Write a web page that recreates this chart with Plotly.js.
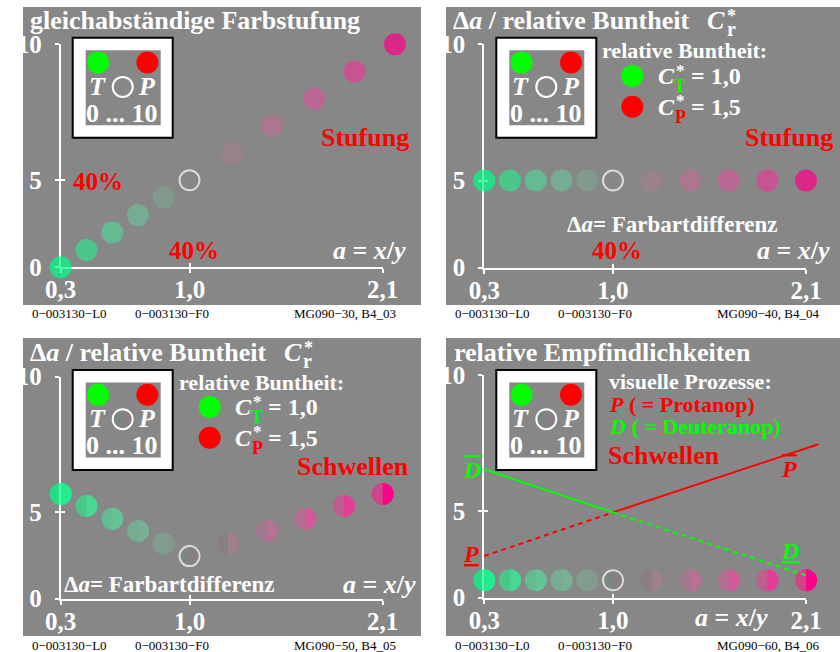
<!DOCTYPE html>
<html><head><meta charset="utf-8">
<script src="https://cdn.plot.ly/plotly-3.0.1.min.js"></script>
<style>body{margin:0;background:#fff}#c{width:840px;height:652px}</style>
</head><body><div id="c"></div>
<script>
// ---------- data ----------
const xTickVals = [0.3, 1.0, 2.1];
const xTickText = ['0,3', '1,0', '2,1'];
const yTickVals = [0, 5, 10];
const yTickText = ['0', '5', '10'];

const stufungA = [0.3, 0.44, 0.58, 0.72, 0.86, 1.0, 1.24, 1.47, 1.71, 1.94, 2.17];
const stufungV = [0, 1, 2, 3, 4, 5, 6, 7, 8, 9, 10];
const buntA = [0.3, 0.44, 0.58, 0.72, 0.86, 1.0, 1.22, 1.44, 1.66, 1.88, 2.1];
const buntV = [5, 5, 5, 5, 5, 5, 5, 5, 5, 5, 5];
const schwA = [0.3, 0.44, 0.58, 0.72, 0.86, 1.0, 1.22, 1.44, 1.66, 1.88, 2.1];
const schwV = [5.67, 5.23, 4.62, 3.91, 3.19, 2.46, 3.19, 3.91, 4.62, 5.23, 5.67];
const empfA = [0.3, 0.44, 0.58, 0.72, 0.86, 1.0, 1.22, 1.44, 1.66, 1.88, 2.1];
const empfV = [1, 1, 1, 1, 1, 1, 1, 1, 1, 1, 1];
const protA = [0.3, 1.0, 2.17];
const protV = [2.4, 4.91, 7.45];
const deutA = [0.3, 1.0, 2.15];
const deutV = [6.53, 4.91, 1.12];
const ringIndex = 5;

const fullColors  = ['#00ff88', '#33e38f', '#55d096', '#6fbc96', '#80a28e', 'rgba(0,0,0,0)', '#a1808e', '#b97095', '#d25a98', '#e43d95', '#ff0088'];
const leftColors  = ['#00ff88', '#33e38f', '#55d096', '#6fbc96', '#7ea690', '#788880', '#8c7a84', '#ac7290', '#c46296', '#da4a96', '#ec2a8e'];
const rightColors = ['#22ec8e', '#48d894', '#64c496', '#78b094', '#849a8c', '#8c7e88', '#a1808e', '#b97095', '#d25a98', '#e43d95', '#ff0088'];

// ---------- style / geometry ----------
const FONT = '"Liberation Serif", "Times New Roman", serif';
const W = 840, H = 652;
const GRAY = '#878787', RED = '#ff0000', GREEN = '#00ff00', WHITE = '#ffffff';
const XS = 0.4, YS = 0.39;   // 40% split of the axes
const tx = a => a <= 1 ? (a - 0.3) / 0.7 * XS : XS + (a - 1) / 1.1 * (1 - XS);
const ty = v => v <= 5 ? v / 5 * YS : YS + (v - 5) / 5 * (1 - YS);
const px = x => x / W, py = y => 1 - y / H;

const panels = [
  {bg: [23, 7, 421, 305],    ax: [60.7, 44.3, 382.7, 267.3], box: [72.7, 37.7]},
  {bg: [446, 7, 840, 305],   ax: [484.3, 44.3, 806, 267.7],  box: [496.3, 37.7]},
  {bg: [23, 338, 421, 636],  ax: [60.7, 376.7, 382.7, 598.7], box: [72.7, 370]},
  {bg: [446, 338, 840, 636], ax: [484.3, 375, 806, 597.7],   box: [496.3, 370]}
];

const layout = {
  width: W, height: H, margin: {l: 0, r: 0, t: 0, b: 0},
  paper_bgcolor: '#ffffff', plot_bgcolor: 'rgba(0,0,0,0)',
  showlegend: false, shapes: [], annotations: []
};
const tickFont = {family: FONT, size: 25, color: WHITE, weight: 'bold'};
const EXT = 30;
const traces = [];

panels.forEach((p, k) => {
  const i = k + 1, o = k + 5, d = k + 9;
  const [x0, y0, x1, y1] = p.ax;
  const xd = [px(x0), px(x1)], yd = [py(y1), py(y0)];
  layout['xaxis' + i] = {domain: xd, range: [0, 1], anchor: 'y' + i, showline: true, linecolor: WHITE, linewidth: 2,
    ticks: 'outside', ticklen: 4, tickwidth: 2, tickcolor: WHITE, tickvals: xTickVals.map(tx), ticktext: xTickText,
    tickfont: tickFont, ticklabelstandoff: -5, showgrid: false, zeroline: false, fixedrange: true};
  layout['yaxis' + i] = {domain: yd, range: [0, 1], anchor: 'x' + i, showline: true, linecolor: WHITE, linewidth: 2,
    ticks: 'outside', ticklen: 4, tickwidth: 2, tickcolor: WHITE, tickvals: yTickVals.map(ty), ticktext: yTickText,
    tickfont: tickFont, ticklabelstandoff: 8, showgrid: false, zeroline: false, fixedrange: true};
  layout['xaxis' + o] = {overlaying: 'x' + i, range: [0, 1], anchor: 'y' + o, showline: false, ticks: 'inside', ticklen: 4,
    tickwidth: 2, tickcolor: WHITE, tickvals: xTickVals.slice(1).map(tx), showticklabels: false, showgrid: false, zeroline: false, fixedrange: true};
  layout['yaxis' + o] = {overlaying: 'y' + i, range: [0, 1], anchor: 'x' + o, showline: false, ticks: 'inside', ticklen: 4,
    tickwidth: 2, tickcolor: WHITE, tickvals: yTickVals.slice(1).map(ty), showticklabels: false, showgrid: false, zeroline: false, fixedrange: true};
  const Lx = x1 - x0, Ly = y1 - y0;
  layout['xaxis' + d] = {domain: [px(x0 - EXT), px(x1 + EXT)], range: [-EXT / Lx, 1 + EXT / Lx], anchor: 'y' + d, visible: false, fixedrange: true};
  layout['yaxis' + d] = {domain: [py(y1 + EXT), py(y0 - EXT)], range: [-EXT / Ly, 1 + EXT / Ly], anchor: 'x' + d, visible: false, fixedrange: true};

  // empty traces so the frame axes and the inner-tick axes are drawn
  traces.push({type: 'scatter', mode: 'markers', x: [], y: [], xaxis: 'x' + i, yaxis: 'y' + i, hoverinfo: 'skip'});
  traces.push({type: 'scatter', mode: 'markers', x: [], y: [], xaxis: 'x' + o, yaxis: 'y' + o, hoverinfo: 'skip'});

  // panel background
  layout.shapes.push({type: 'rect', xref: 'paper', yref: 'paper', x0: px(p.bg[0]), x1: px(p.bg[2]), y0: py(p.bg[3]), y1: py(p.bg[1]),
    fillcolor: GRAY, line: {width: 0}, layer: 'below'});
});

// ---------- shape helpers ----------
function circ(xref, yref, cx, cy, r, fill, lc, lw) {
  return {type: 'circle', xref, yref, xsizemode: 'pixel', ysizemode: 'pixel', xanchor: cx, yanchor: cy,
    x0: -r, x1: r, y0: -r, y1: r, fillcolor: fill, line: {color: lc || 'rgba(0,0,0,0)', width: lw || 0}, layer: 'above'};
}
function halfRight(xref, yref, cx, cy, r, fill) {
  const k = 0.5523 * r;
  return {type: 'path', xref, yref, xsizemode: 'pixel', ysizemode: 'pixel', xanchor: cx, yanchor: cy,
    path: `M0,${-r} C${k},${-r} ${r},${-k} ${r},0 C${r},${k} ${k},${r} 0,${r} Z`,
    fillcolor: fill, line: {width: 0}, layer: 'above'};
}
function ann(x, y, text, size, color, xa, opt) {
  return Object.assign({xref: 'paper', yref: 'paper', x: px(x), y: py(y), text, showarrow: false,
    xanchor: xa || 'left', yanchor: 'middle', borderpad: 0,
    font: {family: FONT, size, color, weight: 'bold'}}, opt || {});
}

// ---------- legend boxes ----------
panels.forEach((p, k) => {
  const [bx, by] = p.box;
  layout.shapes.push({type: 'rect', xref: 'paper', yref: 'paper', x0: px(bx), x1: px(bx + 100), y0: py(by + 100), y1: py(by),
    fillcolor: WHITE, line: {color: '#000', width: 2}, layer: 'above'});
  const ix = bx + 13, iy = by + 12.5;
  layout.shapes.push({type: 'rect', xref: 'paper', yref: 'paper', x0: px(ix), x1: px(ix + 75), y0: py(iy + 75), y1: py(iy),
    fillcolor: GRAY, line: {width: 0}, layer: 'above'});
  layout.shapes.push(circ('paper', 'paper', px(ix + 12.3), py(iy + 12.3), 11, GREEN));
  layout.shapes.push(circ('paper', 'paper', px(ix + 61.7), py(iy + 12.3), 11, RED));
  if (k >= 2) {
    layout.shapes.push(circ('paper', 'paper', px(ix + 37), py(iy + 36.7), 9, leftColors[ringIndex]));
    layout.shapes.push(halfRight('paper', 'paper', px(ix + 37), py(iy + 36.7), 9, rightColors[ringIndex]));
  }
  layout.shapes.push(circ('paper', 'paper', px(ix + 37), py(iy + 36.7), 10, 'rgba(0,0,0,0)', WHITE, 2));
  layout.annotations.push(ann(ix + 11.5, iy + 36, '<i>T</i>', 26, WHITE, 'center'));
  layout.annotations.push(ann(ix + 61.3, iy + 36, '<i>P</i>', 26, WHITE, 'center'));
  layout.annotations.push(ann(ix + 36.3, iy + 63.3, '0 ... 10', 26, WHITE, 'center'));
});

// ---------- data traces ----------
const sizes = fullColors.map((c, j) => j === ringIndex ? 20 : 22);
const widths = fullColors.map((c, j) => j === ringIndex ? 2 : 0);
traces.push({type: 'scatter', mode: 'markers', xaxis: 'x9', yaxis: 'y9', x: stufungA.map(tx), y: stufungV.map(ty),
  marker: {size: sizes, color: fullColors, line: {color: WHITE, width: widths}}, hoverinfo: 'skip'});
traces.push({type: 'scatter', mode: 'markers', xaxis: 'x10', yaxis: 'y10', x: buntA.map(tx), y: buntV.map(ty),
  marker: {size: sizes, color: fullColors, line: {color: WHITE, width: widths}}, hoverinfo: 'skip'});
[[schwA, schwV, 'x11', 'y11'], [empfA, empfV, 'x12', 'y12']].forEach(([A, V, xa, ya]) => {
  traces.push({type: 'scatter', mode: 'markers', xaxis: xa, yaxis: ya, x: A.map(tx), y: V.map(ty),
    marker: {size: sizes, color: leftColors, line: {color: WHITE, width: widths}}, hoverinfo: 'skip'});
  A.forEach((a, j) => {
    layout.shapes.push(halfRight(xa, ya, tx(a), ty(V[j]), j === ringIndex ? 9 : 11, rightColors[j]));
  });
});
function seg(A, V, j0, j1, color, dash) {
  return {type: 'scatter', mode: 'lines', xaxis: 'x12', yaxis: 'y12', x: A.slice(j0, j1 + 1).map(tx), y: V.slice(j0, j1 + 1).map(ty),
    line: {color, width: 2, dash}, hoverinfo: 'skip'};
}
traces.push(seg(protA, protV, 0, 1, RED, '5px,4px'));
traces.push(seg(protA, protV, 1, 2, RED, 'solid'));
traces.push(seg(deutA, deutV, 0, 1, GREEN, 'solid'));
traces.push(seg(deutA, deutV, 1, 2, GREEN, '5px,4px'));

// ---------- texts ----------
const A = layout.annotations;
const axy = '<i>a</i> = <i>x</i>/<i>y</i>';
// panel 1
A.push(ann(29, 20, 'gleichabständige Farbstufung', 26, WHITE));
A.push(ann(320, 137, 'Stufung', 26, RED));
A.push(ann(72, 181, '40%', 25, RED));
A.push(ann(168, 250, '40%', 25, RED));
A.push(ann(332, 250, axy, 26, WHITE));
// panel 2
A.push(ann(452, 20, 'Δ<i>a</i> / relative Buntheit', 26, WHITE));
A.push(ann(706, 20, '<i>C</i>', 26, WHITE));
A.push(ann(731, 16, '*', 18, WHITE, 'center'));
A.push(ann(731, 29, 'r', 20, WHITE, 'center'));
A.push(ann(601, 51, 'relative Buntheit:', 22, WHITE));
layout.shapes.push(circ('paper', 'paper', px(632.3), py(76), 11, GREEN));
layout.shapes.push(circ('paper', 'paper', px(632.3), py(106.7), 11, RED));
A.push(ann(657, 76, '<i>C</i>', 24, WHITE));
A.push(ann(680, 70, '*', 17, WHITE, 'center'));
A.push(ann(680, 86, 'T', 18, GREEN, 'center'));
A.push(ann(690, 76, '= 1,0', 24, WHITE));
A.push(ann(657, 106.7, '<i>C</i>', 24, WHITE));
A.push(ann(680, 100.7, '*', 17, WHITE, 'center'));
A.push(ann(680, 117, 'P', 18, RED, 'center'));
A.push(ann(690, 106.7, '= 1,5', 24, WHITE));
A.push(ann(744, 137, 'Stufung', 26, RED));
A.push(ann(566, 224, 'Δ<i>a</i>= Farbartdifferenz', 23, WHITE));
A.push(ann(591, 250, '40%', 25, RED));
A.push(ann(756, 250, axy, 26, WHITE));
// panel 3
A.push(ann(29, 352, 'Δ<i>a</i> / relative Buntheit', 26, WHITE));
A.push(ann(283, 352, '<i>C</i>', 26, WHITE));
A.push(ann(308, 348, '*', 18, WHITE, 'center'));
A.push(ann(307.5, 361, 'r', 20, WHITE, 'center'));
A.push(ann(178, 382.3, 'relative Buntheit:', 22, WHITE));
layout.shapes.push(circ('paper', 'paper', px(209.7), py(407), 11, GREEN));
layout.shapes.push(circ('paper', 'paper', px(209.7), py(437.7), 11, RED));
A.push(ann(234, 407, '<i>C</i>', 24, WHITE));
A.push(ann(257, 401, '*', 17, WHITE, 'center'));
A.push(ann(257, 417, 'T', 18, GREEN, 'center'));
A.push(ann(267, 407, '= 1,0', 24, WHITE));
A.push(ann(234, 437.7, '<i>C</i>', 24, WHITE));
A.push(ann(257, 431.7, '*', 17, WHITE, 'center'));
A.push(ann(257, 448, 'P', 18, RED, 'center'));
A.push(ann(267, 437.7, '= 1,5', 24, WHITE));
A.push(ann(296, 466.7, 'Schwellen', 26, RED));
A.push(ann(63, 584.3, 'Δ<i>a</i>= Farbartdifferenz', 23, WHITE));
A.push(ann(342, 584, axy, 26, WHITE));
// panel 4
A.push(ann(453, 352, 'relative Empfindlichkeiten', 26, WHITE));
A.push(ann(608, 381.7, 'visuelle Prozesse:', 22, WHITE));
A.push(ann(608, 404, '<i>P</i> ( = Protanop)', 22, RED));
A.push(ann(608, 426.7, '<i>D</i> ( = Deuteranop)', 22, GREEN));
A.push(ann(607, 455, 'Schwellen', 26, RED));
A.push(ann(471.5, 470, '<span style="text-decoration:overline"><i>D</i></span>', 24, GREEN, 'center'));
A.push(ann(789, 469, '<span style="text-decoration:overline"><i>P</i></span>', 24, RED, 'center'));
A.push(ann(470.5, 554, '<u><i>P</i></u>', 24, RED, 'center'));
A.push(ann(789.5, 551, '<u><i>D</i></u>', 24, GREEN, 'center'));
A.push(ann(694, 617, axy, 26, WHITE));
// footers
const foot = {font: {family: FONT, size: 13, color: '#000', weight: 'normal'}};
[[0, 313, 'MG090−30, B4_03'], [423, 313, 'MG090−40, B4_04'], [0, 645, 'MG090−50, B4_05'], [423, 645, 'MG090−60, B4_06']].forEach(([dx, y, t]) => {
  A.push(ann(31 + dx, y, '0−003130−L0', 13, '#000', 'left', foot));
  A.push(ann(134 + dx, y, '0−003130−F0', 13, '#000', 'left', foot));
  A.push(ann(397 + dx, y, t, 13, '#000', 'right', foot));
});

Plotly.newPlot('c', traces, layout, {staticPlot: true, displayModeBar: false});
</script></body></html>
